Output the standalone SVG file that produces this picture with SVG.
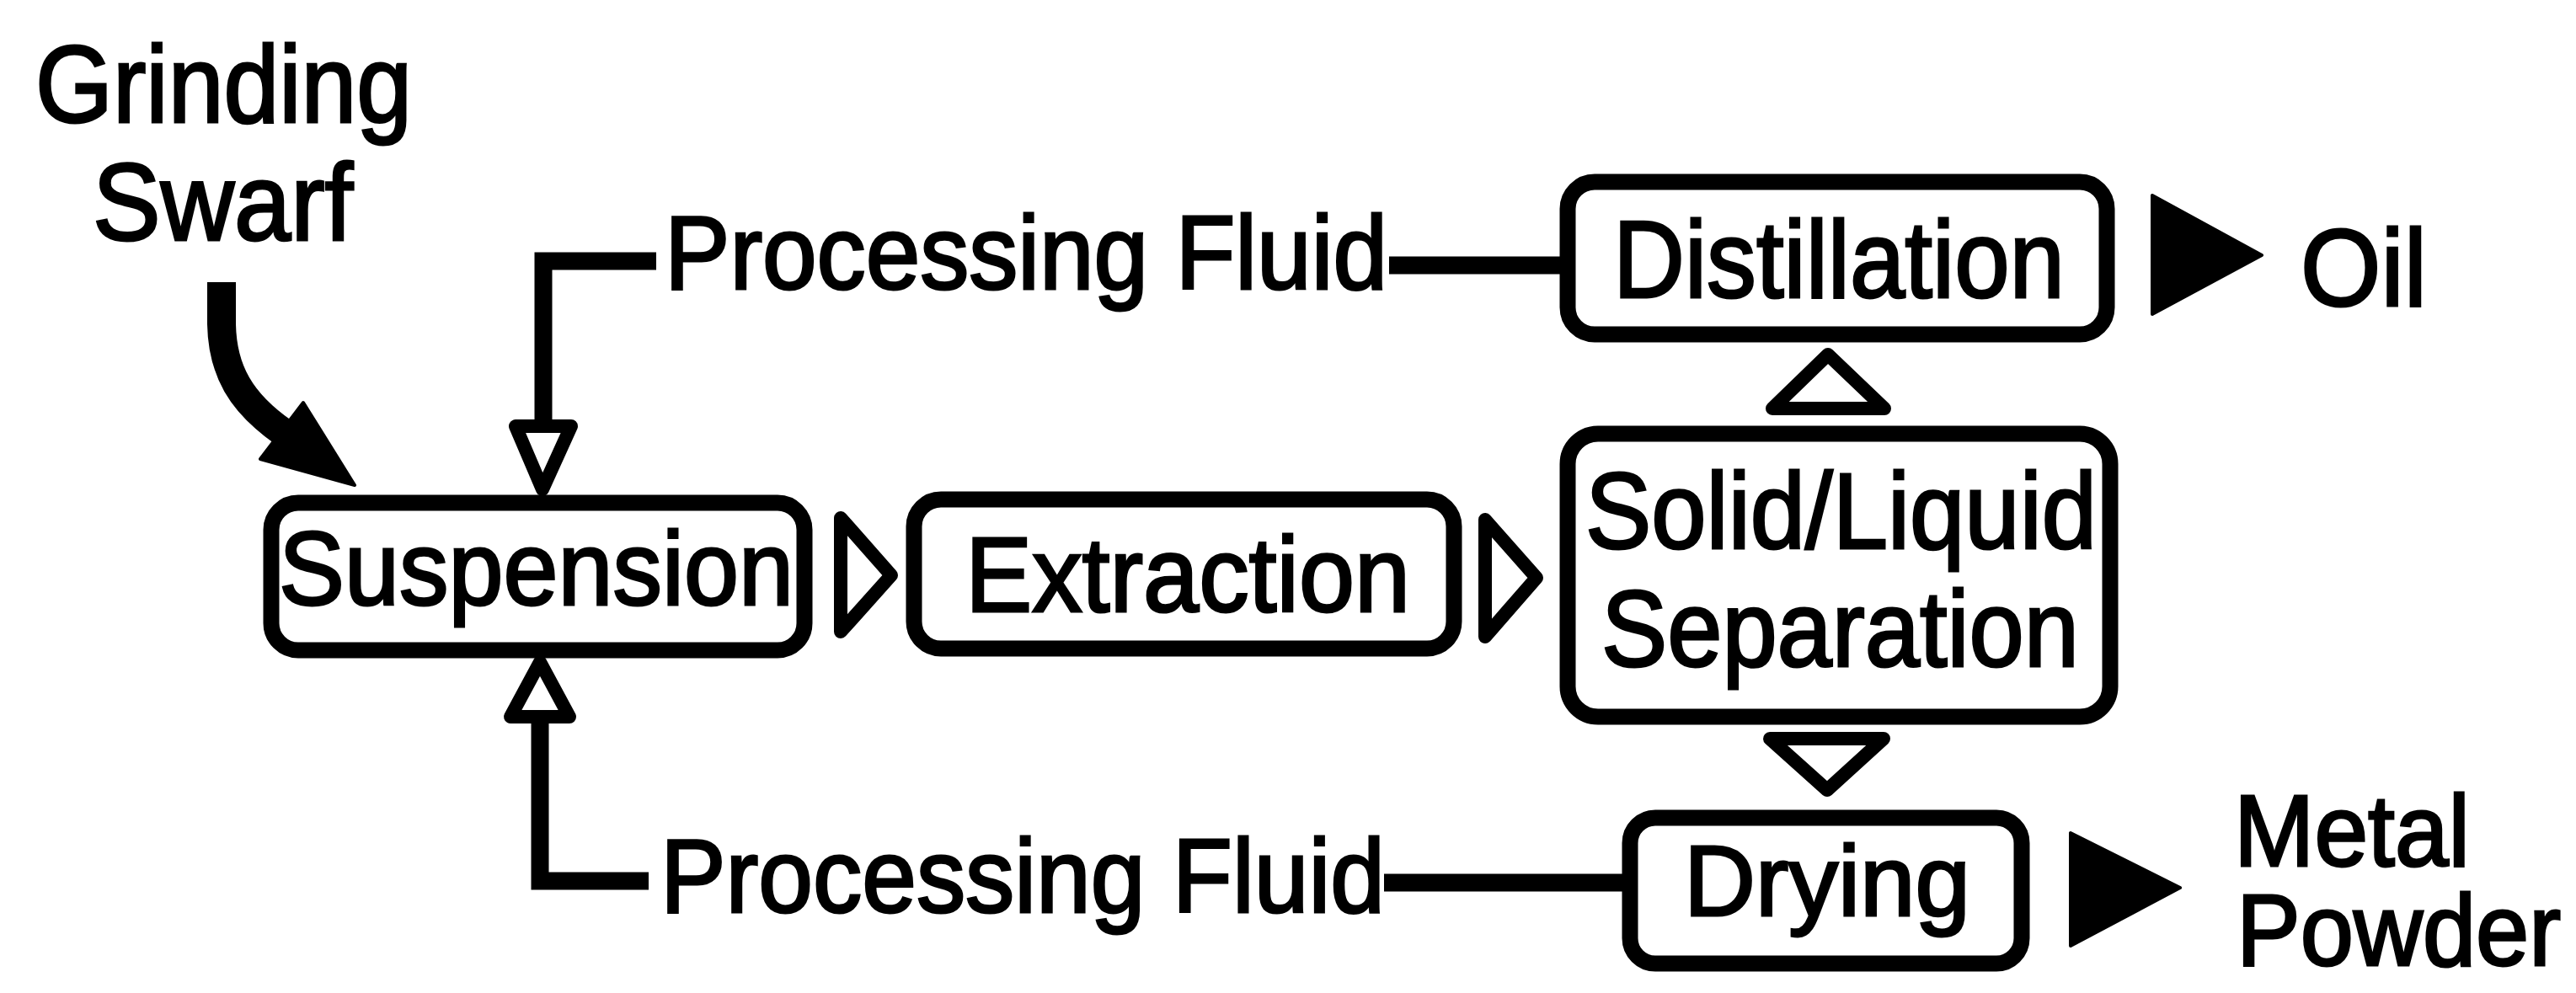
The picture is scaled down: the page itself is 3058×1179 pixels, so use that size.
<svg xmlns="http://www.w3.org/2000/svg" width="3058" height="1179" viewBox="0 0 3058 1179">
<style>
.bg{fill:#fff}
.box{fill:#fff;stroke:#000;stroke-width:19}
.lbl{font-family:"Liberation Sans",Arial,Helvetica,sans-serif;fill:#000;stroke:#000;stroke-width:3}
.ln{fill:none;stroke:#000;stroke-width:21;stroke-linecap:butt;stroke-linejoin:miter}
.open{fill:#fff;stroke:#000;stroke-width:16;stroke-linejoin:round}
.solid{fill:#000;stroke:#000;stroke-width:4;stroke-linejoin:round}
</style>
<rect class="bg" x="0" y="0" width="3058" height="1179"/>

<g id="connectors">
  <!-- grinding swarf curved arrow -->
  <path d="M263 335 L263 385 C264 440 286 478 336 513" fill="none" stroke="#000" stroke-width="34"/>
  <polygon class="solid" points="309,545 360,478 421,576"/>
  <!-- top feedback -->
  <polyline class="ln" points="645,505 645,310 779,310"/>
  <line class="ln" x1="1649" y1="315" x2="1862" y2="315"/>
  <polygon class="open" points="612,506 678,506 644,581" stroke-width="14"/>
  <!-- bottom feedback -->
  <polyline class="ln" points="641,851 641,1046 770,1046"/>
  <line class="ln" x1="1643" y1="1048" x2="1935" y2="1048"/>
  <polygon class="open" points="606,851 676,851 641,786" stroke-width="14"/>
  <!-- main flow triangles -->
  <polygon class="open" points="998,615 998,750 1058,683"/>
  <polygon class="open" points="1763,617 1763,756 1824,686"/>
  <polygon class="open" points="2104,485 2237,485 2170,421" stroke-width="19"/>
  <polygon class="open" points="2101,877 2236,877 2169,938" stroke-width="19"/>
  <!-- output arrows -->
  <polygon class="solid" points="2555,232 2555,373 2685,303"/>
  <polygon class="solid" points="2458,989 2458,1123 2588,1054"/>
</g>

<g id="grinding-swarf">
  <text class="lbl" x="42" y="145" font-size="130" textLength="447" lengthAdjust="spacingAndGlyphs">Grinding</text>
  <text class="lbl" x="110" y="285" font-size="130" textLength="309" lengthAdjust="spacingAndGlyphs">Swarf</text>
</g>

<g id="processing-fluid-top">
  <text class="lbl" x="789" y="343" font-size="124" textLength="858" lengthAdjust="spacingAndGlyphs">Processing Fluid</text>
</g>

<g id="processing-fluid-bottom">
  <text class="lbl" x="784" y="1083" font-size="124" textLength="860" lengthAdjust="spacingAndGlyphs">Processing Fluid</text>
</g>

<g id="suspension">
  <rect class="box" x="322" y="597" width="633" height="175" rx="32"/>
  <text class="lbl" x="331" y="718" font-size="124" textLength="611" lengthAdjust="spacingAndGlyphs">Suspension</text>
</g>

<g id="extraction">
  <rect class="box" x="1085" y="593" width="641" height="177" rx="32"/>
  <text class="lbl" x="1146" y="726" font-size="126" textLength="528" lengthAdjust="spacingAndGlyphs">Extraction</text>
</g>

<g id="distillation">
  <rect class="box" x="1861" y="216" width="640" height="181" rx="32"/>
  <text class="lbl" x="1915" y="353" font-size="130" textLength="536" lengthAdjust="spacingAndGlyphs">Distillation</text>
</g>

<g id="oil">
  <text class="lbl" x="2731" y="363" font-size="130" textLength="150" lengthAdjust="spacingAndGlyphs">Oil</text>
</g>

<g id="solid-liquid-separation">
  <rect class="box" x="1861" y="515" width="644" height="336" rx="36"/>
  <text class="lbl" x="1882" y="651" font-size="128" textLength="607" lengthAdjust="spacingAndGlyphs">Solid/Liquid</text>
  <text class="lbl" x="1901" y="791" font-size="128" textLength="567" lengthAdjust="spacingAndGlyphs">Separation</text>
</g>

<g id="drying">
  <rect class="box" x="1935" y="971" width="465" height="173" rx="30"/>
  <text class="lbl" x="1999" y="1087" font-size="118" textLength="340" lengthAdjust="spacingAndGlyphs">Drying</text>
</g>

<g id="metal-powder">
  <text class="lbl" font-size="120"><tspan x="2652" y="1028" textLength="280" lengthAdjust="spacingAndGlyphs">Metal</tspan><tspan x="2655" y="1146" textLength="385" lengthAdjust="spacingAndGlyphs">Powder</tspan></text>
</g>
</svg>
